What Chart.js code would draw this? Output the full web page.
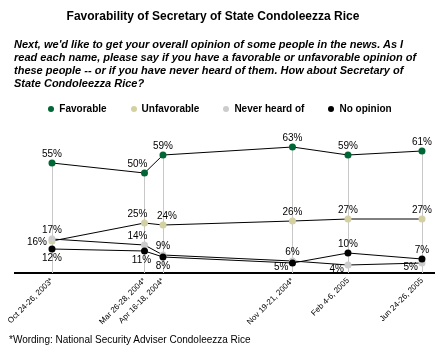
<!DOCTYPE html>
<html>
<head>
<meta charset="utf-8">
<script src="https://cdn.jsdelivr.net/npm/chart.js@4.4.1/dist/chart.umd.min.js"></script>
<style>
  body { margin: 0; background: #fff; font-family: Arial, "Liberation Sans", sans-serif; color: #000; }
  #wrap { position: relative; width: 440px; height: 350px; overflow: hidden; }
  #c { position: absolute; left: 0; top: 0; }
  #title { position: absolute; left: 0; top: 9px; width: 426px; text-align: center; font-weight: bold; font-size: 12px; line-height: 14px; }
  #question { position: absolute; left: 14px; top: 38px; font-weight: bold; font-style: italic; font-size: 11px; line-height: 13px; white-space: nowrap; }
  #legend { position: absolute; left: 0; top: 103px; width: 440px; display: flex; justify-content: center; font-weight: bold; font-size: 10px; line-height: 12px; }
  #legend .item { display: flex; align-items: center; margin: 0 12px; }
  #legend .dot { width: 6px; height: 6px; border-radius: 50%; margin-right: 5px; }
  #note { position: absolute; left: 9px; top: 334px; font-size: 10px; line-height: 12px; }
</style>
</head>
<body>
<div id="wrap">
  <canvas id="c" width="440" height="350"></canvas>
  <div id="title">Favorability of Secretary of State Condoleezza Rice</div>
  <div id="question">Next, we'd like to get your overall opinion of some people in the news. As I<br>read each name, please say if you have a favorable or unfavorable opinion of<br>these people -- or if you have never heard of them. How about Secretary of<br>State Condoleezza Rice?</div>
  <div id="legend"></div>
  <div id="note">*Wording: National Security Adviser Condoleezza Rice</div>
</div>
<script>
// survey dates and the month they fall in (months since Oct 2003)
const surveyDates = ['Oct 24-26, 2003*', 'Mar 26-28, 2004*', 'Apr 16-18, 2004*', 'Nov 19-21, 2004*', 'Feb 4-6, 2005', 'Jun 24-26, 2005'];
const monthIndex = [0, 5, 6, 13, 16, 20];

// values in %
const favorable = [55, 50, 59, 63, 59, 61];
const unfavorable = [16, 25, 24, 26, 27, 27];
const neverHeard = [17, 14, 9, 6, 4, 5];
const noOpinion = [12, 11, 8, 5, 10, 7];

const seriesNames = ['Favorable', 'Unfavorable', 'Never heard of', 'No opinion'];
const seriesColors = ['#006633', '#d3d1a1', '#cccccc', '#000000'];

// where each value label sits relative to its point
const labelPlacement = [
    ['above', 'aboveLeft', 'above', 'above', 'above', 'above'],
    ['left', 'aboveLeft', 'aboveRight', 'above', 'above', 'above'],
    ['above', 'aboveLeft', 'above', 'above', 'leftBelow', 'leftBelow'],
    ['below', 'belowLeft', 'below', 'leftBelow', 'above', 'above']
];

// legend (html)
const legendEl = document.getElementById('legend');
seriesNames.forEach((name, i) => {
    legendEl.innerHTML += `<span class="item"><span class="dot" style="background:${seriesColors[i]}"></span>${name}</span>`;
});

const allSeries = [favorable, unfavorable, neverHeard, noOpinion];
const toPoints = arr => arr.map((v, i) => ({ x: monthIndex[i], y: v }));

// grey drop lines from the favorable point down to the axis
const dropLines = {
    id: 'dropLines',
    beforeDatasetsDraw(chart) {
        const { ctx, scales: { x, y } } = chart;
        ctx.save();
        ctx.strokeStyle = '#c8c8c8';
        ctx.lineWidth = 1;
        monthIndex.forEach((m, i) => {
            const px = Math.round(x.getPixelForValue(m)) + 0.5;
            ctx.beginPath();
            ctx.moveTo(px, y.getPixelForValue(favorable[i]));
            ctx.lineTo(px, y.getPixelForValue(0));
            ctx.stroke();
        });
        ctx.restore();
    }
};

// percent labels
const valueLabels = {
    id: 'valueLabels',
    afterDatasetsDraw(chart) {
        const ctx = chart.ctx;
        ctx.save();
        ctx.font = '10px Arial, "Liberation Sans", sans-serif';
        ctx.fillStyle = '#000';
        ctx.textBaseline = 'middle';
        chart.data.datasets.forEach((ds, di) => {
            const meta = chart.getDatasetMeta(di);
            meta.data.forEach((pt, i) => {
                const txt = ds.data[i].y + '%';
                const pos = labelPlacement[di][i];
                let tx = pt.x, ty = pt.y;
                ctx.textAlign = 'center';
                if (pos === 'above') { ty -= 9; }
                else if (pos === 'below') { ty += 9; }
                else if (pos === 'aboveLeft') { tx -= 7; ty -= 9; }
                else if (pos === 'aboveRight') { tx += 4; ty -= 9; }
                else if (pos === 'belowLeft') { tx -= 3; ty += 9; }
                else if (pos === 'left') { ctx.textAlign = 'right'; tx -= 5; ty += 1; }
                else if (pos === 'leftBelow') { ctx.textAlign = 'right'; tx -= 4; ty += 4; }
                ctx.fillText(txt, tx, ty);
            });
        });
        ctx.restore();
    }
};

new Chart(document.getElementById('c'), {
    type: 'line',
    data: {
        datasets: allSeries.map((arr, i) => ({
            label: seriesNames[i],
            data: toPoints(arr),
            borderColor: '#000',
            borderWidth: 1,
            tension: 0,
            pointRadius: 3.5,
            pointBackgroundColor: seriesColors[i],
            pointBorderColor: seriesColors[i],
            pointBorderWidth: 0,
            order: 3 - i
        }))
    },
    options: {
        responsive: false,
        animation: false,
        layout: { padding: { top: 133, left: 15, right: 6, bottom: 15 } },
        plugins: { legend: { display: false }, tooltip: { enabled: false } },
        scales: {
            x: {
                type: 'linear',
                min: -2,
                max: 20.65,
                grid: { display: false, drawTicks: false },
                border: { display: true, color: '#000', width: 2 },
                afterBuildTicks: axis => { axis.ticks = monthIndex.map(v => ({ value: v })); },
                afterFit: scale => { scale.height = 62; scale.paddingLeft = 0; scale.paddingRight = 0; },
                ticks: {
                    autoSkip: false,
                    minRotation: 45,
                    maxRotation: 45,
                    padding: 3,
                    color: '#000',
                    font: { family: 'Arial, "Liberation Sans", sans-serif', size: 8 },
                    callback: v => surveyDates[monthIndex.indexOf(v)]
                }
            },
            y: { display: false, min: 0, max: 70 }
        }
    },
    plugins: [dropLines, valueLabels]
});
</script>
</body>
</html>
